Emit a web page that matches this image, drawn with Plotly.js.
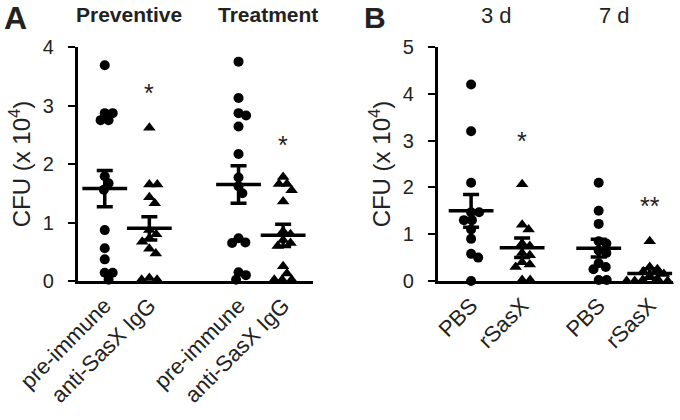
<!DOCTYPE html>
<html>
<head>
<meta charset="utf-8">
<script src="https://cdn.plot.ly/plotly-3.0.1.min.js"></script>
<style>
  body { margin: 0; background: #fff; }
  #chart { width: 680px; height: 420px; }
</style>
</head>
<body>
<div id="chart"></div>
<script>
// Panel A: CFU (x 10^4) per animal
const labelsA = ['pre-immune', 'anti-SasX IgG', 'pre-immune', 'anti-SasX IgG'];
const prevPre = [3.69, 2.87, 2.87, 2.75, 2.75, 1.79, 1.67, 1.56, 0.87, 0.56, 0.37, 0.14, 0.14, 0.02];
const prevAnti = [2.62, 1.65, 1.65, 1.43, 1.33, 0.87, 0.8, 0.73, 0.67, 0.55, 0.47, 0.05, 0.02, 0.02];
const treatPre = [3.75, 3.13, 2.87, 2.83, 2.64, 2.17, 1.77, 1.62, 1.5, 0.73, 0.66, 0.65, 0.15, 0.1, 0.02];
const treatAnti = [1.78, 1.66, 1.66, 1.55, 1.36, 0.85, 0.8, 0.7, 0.65, 0.6, 0.25, 0.13, 0.02, 0.02, 0.02];
const meansA = [1.58, 0.90, 1.65, 0.78];
const semA = [0.31, 0.20, 0.32, 0.19];
const starsA = ['*', '*'];
const starYA = [3.32, 2.42];

// Panel B
const labelsB = ['PBS', 'rSasX', 'PBS', 'rSasX'];
const pbs3 = [4.2, 3.2, 2.1, 1.47, 1.47, 1.3, 1.3, 1.1, 0.9, 0.58, 0.5, 0.0];
const sasx3 = [2.07, 1.2, 1.1, 0.8, 0.75, 0.6, 0.55, 0.4, 0.35, 0.3, 0.02, 0.02];
const pbs7 = [2.1, 1.5, 1.22, 0.85, 0.8, 0.65, 0.6, 0.38, 0.3, 0.25, 0.02, 0.02];
const sasx7 = [0.85, 0.3, 0.25, 0.2, 0.15, 0.1, 0.05, 0.02, 0.0, 0.0, 0.0, 0.0];
const meansB = [1.50, 0.71, 0.70, 0.16];
const semB = [0.35, 0.21, 0.19, 0.10];
const starsB = ['*', '**'];
const starYB = [3.12, 1.73];

const font = 'Liberation Sans, Arial, sans-serif';
const ink = '#222';

// simple beeswarm so dots at similar values sit side by side (pixel space)
function swarm(vals, pxX, pxY, d) {
    const placed = [];
    const offs = new Array(vals.length);
    vals.forEach((v, i) => {
        const y = v * pxY;
        const cands = [0];
        placed.forEach(p => {
            const dy = Math.abs(p.y - y);
            if (dy < d) {
                const dx = Math.sqrt(d * d - dy * dy);
                cands.push(p.x + dx, p.x - dx);
            }
        });
        cands.sort((a, b) => Math.abs(a) - Math.abs(b));
        const x = cands.find(c => placed.every(p => Math.hypot(p.x - c, p.y - y) >= d - 0.01));
        placed.push({x: x, y: y});
        offs[i] = x / pxX;
    });
    return offs;
}

function dots(vals, pos, symbol, ax, pxX, pxY) {
    const offs = swarm(vals, pxX, pxY, 8);
    return {
        x: vals.map((v, i) => pos + offs[i]),
        y: vals,
        xaxis: ax.x, yaxis: ax.y,
        type: 'scatter', mode: 'markers',
        cliponaxis: false, hoverinfo: 'skip',
        marker: {symbol: symbol, size: symbol === 'circle' ? 10 : 11, color: 'black'}
    };
}

function meanBars(pos, means, sem, ax) {
    return {
        x: pos, y: means,
        xaxis: ax.x, yaxis: ax.y,
        type: 'scatter', mode: 'markers',
        cliponaxis: false, hoverinfo: 'skip',
        marker: {symbol: 'line-ew', size: 32, line: {width: 3.5, color: 'black'}},
        error_y: {type: 'data', array: sem, visible: true, width: 8, thickness: 3.5, color: 'black'}
    };
}

const posA = [1, 2, 4, 5];
const posB = [1, 2, 3.5, 4.5];
const axA = {x: 'x', y: 'y'};
const axB = {x: 'x2', y: 'y2'};
// px per data unit, used only for the swarm spacing
const pxXA = 45, pxYA = 58.5, pxXB = 51, pxYB = 46.8;

const data = [
    dots(prevPre, posA[0], 'circle', axA, pxXA, pxYA),
    dots(prevAnti, posA[1], 'triangle-up', axA, pxXA, pxYA),
    dots(treatPre, posA[2], 'circle', axA, pxXA, pxYA),
    dots(treatAnti, posA[3], 'triangle-up', axA, pxXA, pxYA),
    meanBars(posA, meansA, semA, axA),
    dots(pbs3, posB[0], 'circle', axB, pxXB, pxYB),
    dots(sasx3, posB[1], 'triangle-up', axB, pxXB, pxYB),
    dots(pbs7, posB[2], 'circle', axB, pxXB, pxYB),
    dots(sasx7, posB[3], 'triangle-up', axB, pxXB, pxYB),
    meanBars(posB, meansB, semB, axB)
];

const yCommon = {
    showline: true, linewidth: 3, linecolor: 'black',
    ticks: 'outside', ticklen: 7, tickwidth: 2, tickcolor: 'black',
    showgrid: false, zeroline: false, dtick: 1,
    ticklabelstandoff: 10,
    tickfont: {family: font, size: 20, color: ink},
    title: {text: 'CFU (x 10<sup>4</sup>)', font: {family: font, size: 24, color: ink}, standoff: 6}
};
const xCommon = {
    showline: true, linewidth: 3, linecolor: 'black',
    ticks: '', showgrid: false, zeroline: false,
    tickangle: -45,
    tickfont: {family: font, size: 22, color: ink}
};

function topLabel(text, xref, x, y, size) {
    return {text: text, xref: xref, yref: 'paper', x: x, y: 1 - y / 420,
        xanchor: 'center', yanchor: 'middle', showarrow: false,
        font: {family: font, size: size, color: ink}};
}

function star(text, xref, yref, x, y) {
    return {text: text, xref: xref, yref: yref, x: x, y: y, yshift: -6,
        showarrow: false, font: {family: font, size: 25, color: ink}};
}

const layout = {
    width: 680, height: 420,
    margin: {l: 0, r: 0, t: 0, b: 0},
    paper_bgcolor: 'white', plot_bgcolor: 'white',
    showlegend: false,
    xaxis: Object.assign({}, xCommon, {domain: [0.1147, 0.4603], range: [0.4, 5.67],
        tickmode: 'array', tickvals: posA, ticktext: labelsA, anchor: 'y'}),
    yaxis: Object.assign({}, yCommon, {domain: [0.331, 0.888], range: [0, 4], anchor: 'x'}),
    xaxis2: Object.assign({}, xCommon, {domain: [0.644, 0.99], range: [0.35, 4.96],
        tickmode: 'array', tickvals: posB, ticktext: labelsB, anchor: 'y2'}),
    yaxis2: Object.assign({}, yCommon, {domain: [0.331, 0.888], range: [0, 5], anchor: 'x2'}),
    annotations: [
        topLabel('<b>A</b>', 'paper', 15 / 680, 18, 32),
        topLabel('<b>B</b>', 'paper', 375 / 680, 18, 30),
        topLabel('<b>Preventive</b>', 'x', 1.55, 15, 21),
        topLabel('<b>Treatment</b>', 'x', 4.65, 15, 21),
        topLabel('3 d', 'x2', 1.5, 16, 22),
        topLabel('7 d', 'x2', 3.8, 16, 22),
        star(starsA[0], 'x', 'y', posA[1], starYA[0]),
        star(starsA[1], 'x', 'y', posA[3], starYA[1]),
        star(starsB[0], 'x2', 'y2', posB[1], starYB[0]),
        star(starsB[1], 'x2', 'y2', posB[3], starYB[1])
    ]
};

Plotly.newPlot('chart', data, layout, {staticPlot: true});
</script>
</body>
</html>
